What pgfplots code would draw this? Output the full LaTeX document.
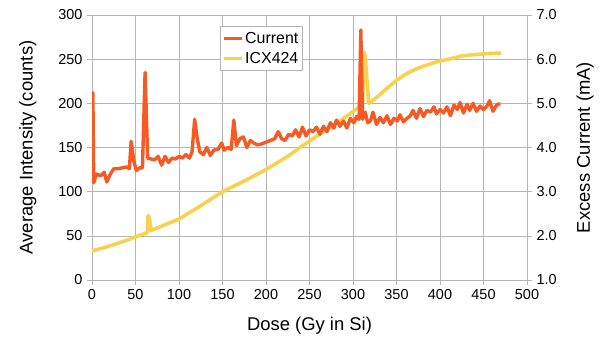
\documentclass[border=0pt]{standalone}
\usepackage{pgfplots}
\pgfplotsset{compat=1.18}
\usepackage{fontspec}
\setmainfont{Liberation Sans}
\definecolor{curr}{HTML}{F65A24}
\definecolor{icx}{HTML}{F7D24E}
\definecolor{gridc}{HTML}{B4B4B4}
\begin{document}
\begin{tikzpicture}
\pgfplotsset{
  common/.style={
    scale only axis, width=435bp, height=265bp,
    xmin=0, xmax=500,
    /pgf/number format/assume math mode=true,
    tick align=outside, major tick length=5bp,
    tick style={gridc, line width=0.6bp},
    ticklabel style={font=\fontsize{14.5}{17}\selectfont},
    label style={font=\fontsize{18.5}{22}\selectfont},
  }
}
\begin{axis}[common,
  axis lines*=left,
  axis line style={gridc, line width=0.6bp},
  ymin=0, ymax=300, ytick={0,50,...,300},
  xtick={0,50,...,500},
  grid=major, grid style={gridc, line width=0.6bp},
  xlabel={Dose (Gy in Si)},
  ylabel={Average Intensity (counts)},
  xlabel style={at={(axis description cs:0.5,0)}, anchor=north, yshift=-34bp},
  ylabel style={at={(axis description cs:0,0.5)}, anchor=south, yshift=52bp},
  yticklabel style={xshift=-1bp},
  xticklabel style={yshift=-1bp},
]
\addplot[icx, line width=3.6bp, line join=round] coordinates {
(0,33) (12,36) (25,40) (40,45) (53,50) (62,53) (63.5,54) (64.5,73) (66,70) (68,56)
(80,61) (100,69) (125,84) (150,100) (175,112) (200,125) (225,140) (239,150)
(260,164) (285,180) (306,195) (311,198) (312.5,258) (314,254) (318,200)
(325,205) (339,217) (350,226) (362,234) (375,240) (396,247) (410,250)
(427,254) (450,256) (470,257)
};
\end{axis}
\begin{axis}[common,
  axis x line=none, axis y line*=right,
  axis line style={gridc, line width=0.6bp},
  ymin=1, ymax=7, ytick={1,2,...,7},
  yticklabel={\pgfmathprintnumber[fixed,fixed zerofill,precision=1]{\tick}},
  ylabel={Excess Current (mA)},
  ylabel style={at={(axis description cs:1,0.5)}, anchor=north, yshift=-46bp},
  yticklabel style={xshift=1bp},
  legend style={at={(0.294,0.958)}, anchor=north west, draw=gridc, line width=0.6bp,
    font=\fontsize{16}{18}\selectfont, inner xsep=2bp, inner ysep=4bp, row sep=3bp},
  legend cell align=left,
  legend image code/.code={\draw[#1, line width=3bp] (0bp,0bp) -- (18bp,0bp);},
]
\addplot[curr, line width=3.4bp, line join=round] coordinates {
(0,3.40) (1,5.24) (2,3.20) (5,3.40) (10,3.36) (14,3.44) (17,3.22) (20,3.36)
(25,3.52) (30,3.52) (35,3.54) (40,3.56) (43,3.52) (45,4.14) (48,3.70) (51,3.48)
(55,3.54) (58,3.54) (61,5.70) (64,3.76) (68,3.74) (72,3.72) (76,3.80) (80,3.60)
(84,3.80) (88,3.66) (92,3.76) (96,3.74) (100,3.80) (104,3.76) (108,3.84) (112,3.76)
(115,3.90) (118,4.64) (121,4.20) (124,3.90) (128,3.84) (132,4.00) (136,3.82)
(140,3.94) (145,3.96) (149,4.10) (152,3.94) (156,4.00) (160,3.96) (163,4.62)
(166,4.04) (170,4.20) (174,4.24) (178,4.00) (182,4.16) (186,4.10) (190,4.06)
(195,4.08) (200,4.12) (205,4.16) (210,4.20) (214,4.36) (218,4.20) (222,4.16)
(226,4.30) (230,4.26) (234,4.40) (238,4.24) (242,4.46) (246,4.26) (250,4.40)
(254,4.36) (258,4.46) (262,4.30) (266,4.48) (270,4.36) (274,4.56) (278,4.44)
(281,4.62) (285,4.48) (289,4.60) (293,4.44) (297,4.66) (301,4.56) (304,4.70)
(307,4.64) (309,6.66) (311,4.64) (314,4.80) (317,4.56) (320,4.60) (323,4.80)
(327,4.52) (331,4.68) (335,4.56) (339,4.72) (343,4.52) (347,4.66) (351,4.60)
(354,4.74) (358,4.58) (362,4.66) (366,4.72) (369,4.84) (373,4.66) (377,4.88)
(381,4.70) (385,4.84) (389,4.80) (393,4.92) (396,4.76) (400,4.86) (404,4.78)
(408,4.92) (412,4.72) (416,4.96) (420,4.86) (423,5.02) (427,4.78) (431,4.98)
(434,4.84) (438,5.00) (442,4.82) (446,4.94) (450,4.86) (454,4.94) (457,5.06)
(461,4.82) (465,4.96) (469,5.00)
};
\addlegendentry{Current}
\addlegendimage{icx}
\addlegendentry{ICX424}
\end{axis}
\path[use as bounding box] (-92bp,-73bp) rectangle (517bp,280bp);
\end{tikzpicture}
\end{document}
